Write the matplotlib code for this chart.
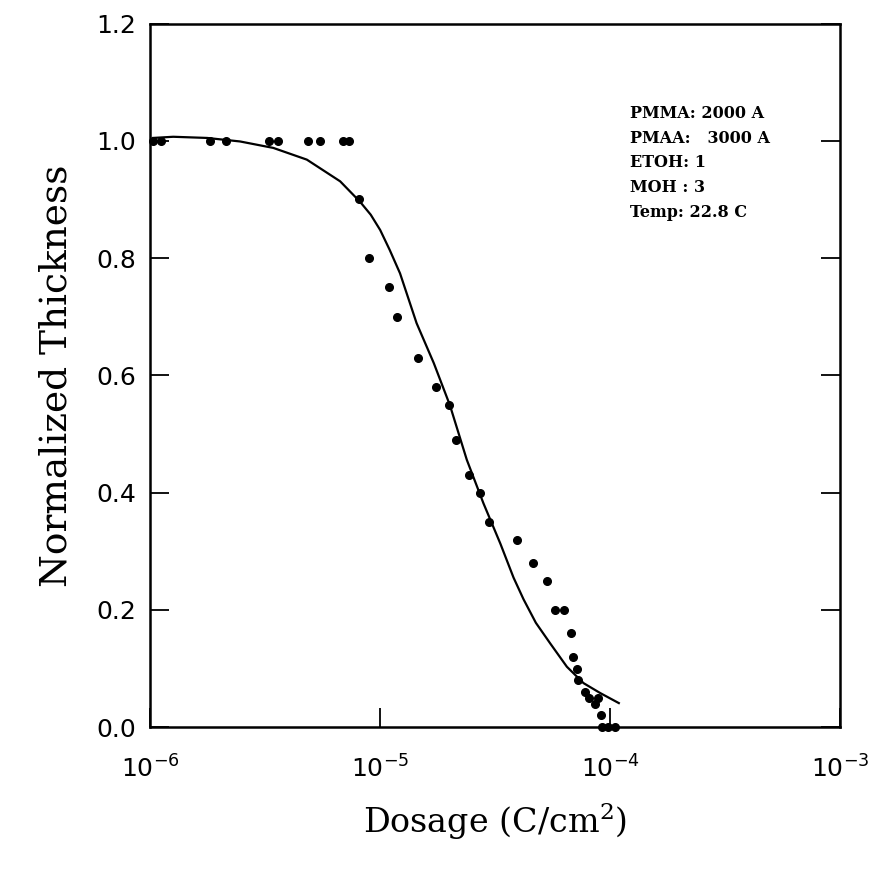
import matplotlib
matplotlib.use("Agg")
import matplotlib.pyplot as plt

# measured points (dose in C/cm^2, normalized thickness)
dose_pts = [1.03e-6, 1.11e-6, 1.82e-6, 2.13e-6, 3.30e-6, 3.59e-6, 4.85e-6,
            5.48e-6, 6.86e-6, 7.33e-6, 8.11e-6, 8.93e-6, 1.09e-5, 1.18e-5,
            1.46e-5, 1.75e-5, 2.00e-5, 2.14e-5, 2.44e-5, 2.71e-5, 2.97e-5,
            3.92e-5, 4.62e-5, 5.32e-5, 5.77e-5, 6.27e-5, 6.76e-5, 6.90e-5,
            7.20e-5, 7.28e-5, 7.76e-5, 8.11e-5, 8.55e-5, 8.81e-5, 9.14e-5,
            9.23e-5, 9.80e-5, 1.05e-4]
thick_pts = [1.0, 1.0, 1.0, 1.0, 1.0, 1.0, 1.0,
             1.0, 1.0, 1.0, 0.90, 0.80, 0.75, 0.70,
             0.63, 0.58, 0.55, 0.49, 0.43, 0.40, 0.35,
             0.32, 0.28, 0.25, 0.20, 0.20, 0.16, 0.12,
             0.10, 0.08, 0.06, 0.05, 0.04, 0.05, 0.02,
             0.0, 0.0, 0.0]

# fitted curve
dose_fit = [1.03e-6, 1.26e-6, 1.77e-6, 2.46e-6, 3.43e-6, 4.80e-6, 6.70e-6,
            8.18e-6, 9.1e-6, 1.0e-5, 1.1e-5, 1.22e-5, 1.44e-5, 1.71e-5,
            2.01e-5, 2.38e-5, 2.81e-5, 3.33e-5, 3.80e-5, 4.2e-5, 4.75e-5,
            5.48e-5, 6.48e-5, 7.66e-5, 9.06e-5, 1.09e-4]
thick_fit = [1.005, 1.007, 1.005, 0.999, 0.988, 0.968, 0.931,
             0.896, 0.874, 0.848, 0.814, 0.774, 0.689, 0.621,
             0.549, 0.456, 0.382, 0.313, 0.255, 0.218, 0.178,
             0.143, 0.103, 0.075, 0.058, 0.041]

info_lines = ["PMMA: 2000 A", "PMAA:   3000 A", "ETOH: 1", "MOH : 3",
              "Temp: 22.8 C"]

fig = plt.figure(figsize=(8.78, 8.75), dpi=100)
ax = fig.add_axes([0.171, 0.169, 0.786, 0.804])

ax.plot(dose_fit, thick_fit, color="black", lw=1.6)
ax.plot(dose_pts, thick_pts, "o", color="black", ms=5.5, clip_on=False)

ax.set_xscale("log")
ax.set_xlim(1e-6, 1e-3)
ax.set_ylim(0, 1.2)
ax.set_xticks([1e-6, 1e-5, 1e-4, 1e-3])
ax.set_yticks([0.0, 0.2, 0.4, 0.6, 0.8, 1.0, 1.2])
ax.set_yticklabels(["0.0", "0.2", "0.4", "0.6", "0.8", "1.0", "1.2"])
ax.minorticks_off()
ax.tick_params(direction="in", length=14, width=1.3, labelsize=18,
               right=True)
ax.tick_params(axis="x", pad=20)
ax.tick_params(axis="y", pad=10)
for s in ax.spines.values():
    s.set_linewidth(1.8)

ax.set_ylabel("Normalized Thickness", family="DejaVu Serif", fontsize=27,
              labelpad=16)
ax.set_xlabel(r"Dosage (C/cm$^\mathregular{2}$)", family="DejaVu Serif",
              fontsize=24, labelpad=13)

for i, line in enumerate(info_lines):
    ax.text(0.695, 0.872 - i * 0.035, line, transform=ax.transAxes,
            family="DejaVu Serif", fontweight="bold", fontsize=11.5,
            va="center", ha="left")

fig.savefig("out.png", dpi=100)
